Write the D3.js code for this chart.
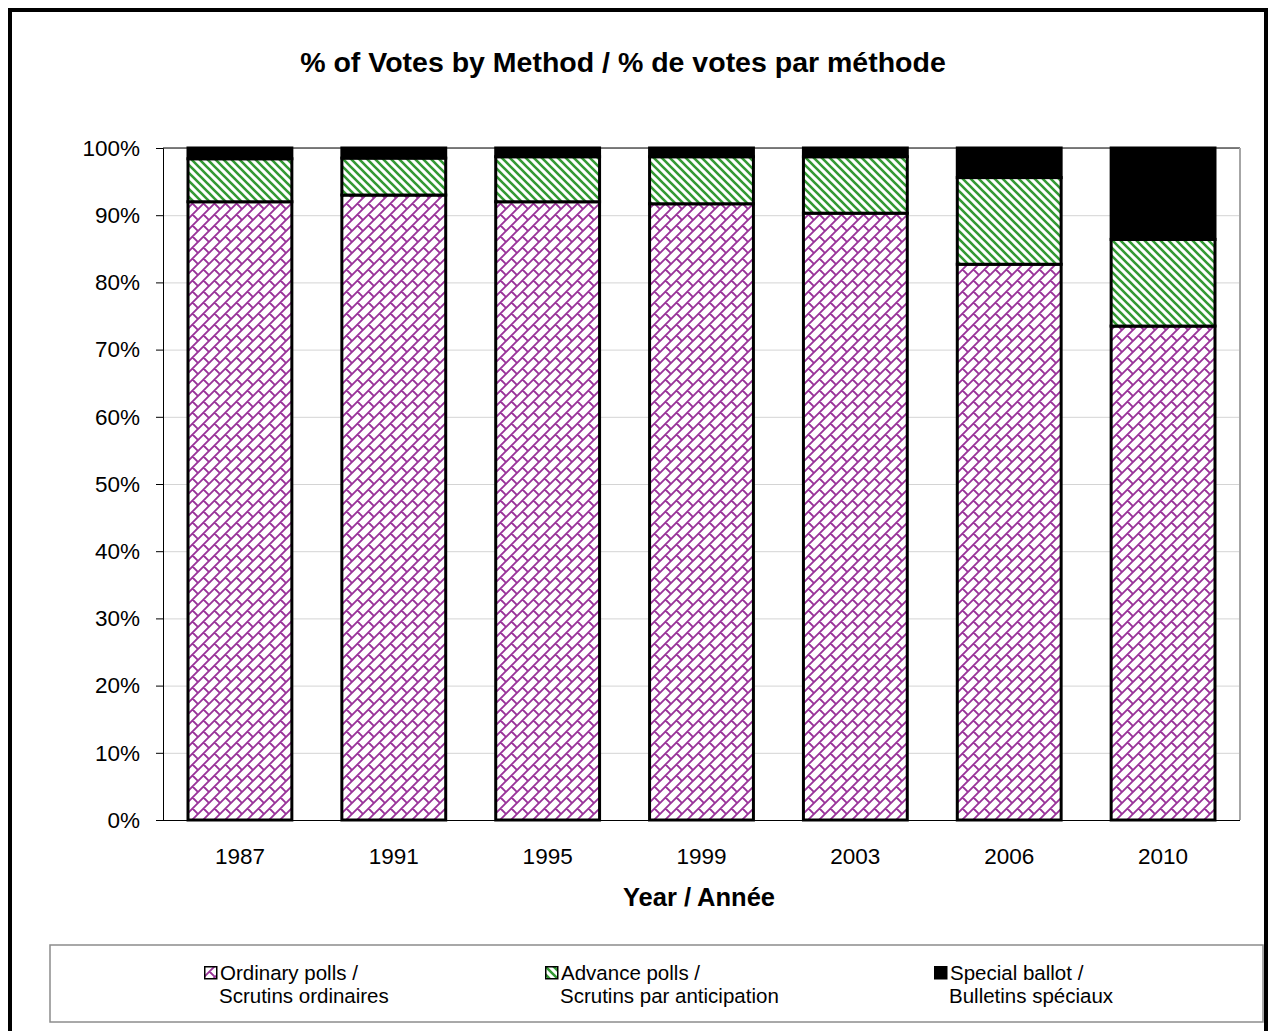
<!DOCTYPE html>
<html>
<head>
<meta charset="utf-8">
<script src="https://cdn.jsdelivr.net/npm/d3@7"></script>
<style>
  body { margin: 0; background: #fff; }
  svg text { font-family: "Liberation Sans", Arial, sans-serif; fill: #000; }
</style>
</head>
<body>
<div id="canvas-wrapper"></div>
<script>
var years = ["1987", "1991", "1995", "1999", "2003", "2006", "2010"];
var ordinary = [92.0, 93.0, 92.0, 91.7, 90.3, 82.7, 73.5];
var advance = [6.4, 5.5, 6.7, 7.0, 8.4, 12.9, 12.9];
var special = [1.6, 1.5, 1.3, 1.3, 1.3, 4.4, 13.6];
var yTicks = [0, 0.1, 0.2, 0.3, 0.4, 0.5, 0.6, 0.7, 0.8, 0.9, 1];
var seriesNames = [
  ["Ordinary polls /", "Scrutins ordinaires"],
  ["Advance polls /", "Scrutins par anticipation"],
  ["Special ballot /", "Bulletins spéciaux"]
];

var rows = years.map(function(y, i) {
  return { year: y, ordinary: ordinary[i] / 100, advance: advance[i] / 100, special: special[i] / 100 };
});
var keys = ["ordinary", "advance", "special"];

var W = 1268, H = 1031;
var plot = { left: 163, right: 1240, top: 148, bottom: 820 };

var svg = d3.select("#canvas-wrapper").append("svg")
    .attr("width", W)
    .attr("height", H);

// fill patterns
var defs = svg.append("defs");
var brick = defs.append("pattern")
    .attr("id", "brick")
    .attr("patternUnits", "userSpaceOnUse")
    .attr("width", 11).attr("height", 11);
brick.append("rect").attr("width", 11).attr("height", 11).attr("fill", "#fff");
brick.append("path")
    .attr("transform", "scale(1.375)")
    .attr("d", "M-1,9L9,-1M-1,1L1,-1M7,9L9,7M4,4L9,9M-1,-1L0,0")
    .attr("stroke", "#993399").attr("stroke-width", 1.35).attr("fill", "none");

var stripes = defs.append("pattern")
    .attr("id", "stripes")
    .attr("patternUnits", "userSpaceOnUse")
    .attr("width", 8).attr("height", 8);
stripes.append("rect").attr("width", 8).attr("height", 8).attr("fill", "#fff");
stripes.append("path")
    .attr("d", "M-1,-1L9,9M7,-1L9,1M-1,7L1,9")
    .attr("stroke", "#339933").attr("stroke-width", 2.6).attr("fill", "none");

var fills = { ordinary: "url(#brick)", advance: "url(#stripes)", special: "#000" };

// outer frame
svg.append("rect")
    .attr("x", 10).attr("y", 10)
    .attr("width", 1256).attr("height", 1040)
    .attr("fill", "none").attr("stroke", "#000").attr("stroke-width", 4);

var x = d3.scaleBand()
    .domain(years)
    .range([plot.left, plot.right])
    .paddingInner(0.325)
    .paddingOuter(0.1625);

var y = d3.scaleLinear().domain([0, 1]).range([plot.bottom, plot.top]);

// gridlines
svg.append("g")
    .attr("transform", "translate(" + plot.left + ",0)")
    .call(d3.axisLeft(y).tickValues(yTicks).tickSize(-(plot.right - plot.left)).tickFormat(""))
    .call(function(g) { g.select(".domain").remove(); })
    .selectAll("line").attr("stroke", "#d4d4d4");

// plot area frame (top and right)
svg.append("line")
    .attr("x1", plot.left).attr("x2", plot.right)
    .attr("y1", plot.top).attr("y2", plot.top)
    .attr("stroke", "#555").attr("stroke-width", 1.5);
svg.append("line")
    .attr("x1", plot.right).attr("x2", plot.right)
    .attr("y1", plot.top).attr("y2", plot.bottom)
    .attr("stroke", "#a6a6a6").attr("stroke-width", 2);

// bars
var stacked = d3.stack().keys(keys)(rows);
svg.append("g").selectAll("g")
    .data(stacked)
  .enter().append("g")
    .attr("fill", function(d) { return fills[d.key]; })
  .selectAll("rect")
    .data(function(d) { return d; })
  .enter().append("rect")
    .attr("x", function(d) { return x(d.data.year); })
    .attr("width", x.bandwidth())
    .attr("y", function(d) { return y(d[1]); })
    .attr("height", function(d) { return y(d[0]) - y(d[1]); })
    .attr("stroke", "#000")
    .attr("stroke-width", 3);

// y axis
var yAxis = svg.append("g")
    .attr("transform", "translate(" + plot.left + ",0)")
    .call(d3.axisLeft(y).tickValues(yTicks).tickSize(7).tickPadding(16).tickFormat(d3.format(".0%")));
yAxis.selectAll("text").style("font-size", "22.5px");
yAxis.selectAll("line, path").attr("stroke", "#000");

// x axis
var xAxis = svg.append("g")
    .attr("transform", "translate(0," + plot.bottom + ")")
    .call(d3.axisBottom(x).tickSize(0).tickPadding(28));
xAxis.select(".domain").attr("stroke", "#000").attr("d", "M" + (plot.left - 7) + ",0.5H" + plot.right);
xAxis.selectAll("text").style("font-size", "22.5px");

// titles
svg.append("text")
    .attr("x", 623).attr("y", 72)
    .attr("text-anchor", "middle")
    .style("font-size", "28.5px").style("font-weight", "bold")
    .text("% of Votes by Method / % de votes par méthode");

svg.append("text")
    .attr("x", 699).attr("y", 906)
    .attr("text-anchor", "middle")
    .style("font-size", "25.5px").style("font-weight", "bold")
    .text("Year / Année");

// legend
svg.append("rect")
    .attr("x", 50).attr("y", 945)
    .attr("width", 1213).attr("height", 77)
    .attr("fill", "#fff").attr("stroke", "#8c8c8c").attr("stroke-width", 1.5);

var legendX = [204, 545, 934];
var legend = svg.append("g").selectAll("g")
    .data(keys)
  .enter().append("g")
    .attr("transform", function(d, i) { return "translate(" + legendX[i] + ",966)"; });
legend.append("rect")
    .attr("x", 0.75).attr("y", 0.75)
    .attr("width", 12).attr("height", 12)
    .attr("fill", function(d) { return fills[d]; })
    .attr("stroke", "#000").attr("stroke-width", 1.5);
legend.append("text")
    .attr("x", 16).attr("y", 14)
    .style("font-size", "20.5px")
    .text(function(d, i) { return seriesNames[i][0]; });
legend.append("text")
    .attr("x", 15).attr("y", 37)
    .style("font-size", "20.5px")
    .text(function(d, i) { return seriesNames[i][1]; });
</script>
</body>
</html>
